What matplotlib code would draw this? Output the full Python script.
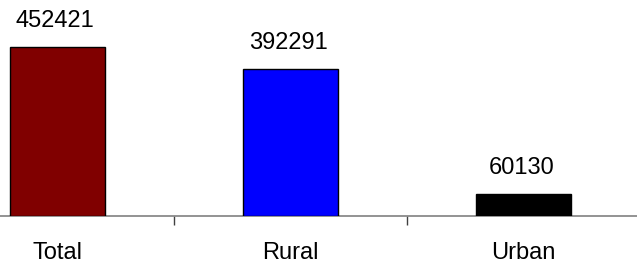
import numpy as np
import matplotlib
matplotlib.use('Agg')
import matplotlib.pyplot as plt

plt.rcParams['font.family'] = ['Liberation Sans', 'DejaVu Sans']

categories = ['Total', 'Rural', 'Urban']
values = [452421, 392291, 60130]
colors = ['#800000', '#0000FF', '#000000']

W, H = 637, 268
fig = plt.figure(figsize=(W / 100, H / 100), dpi=100)

# axes spills past the left/right edge of the figure, like the original crop
left_px, right_px, base_px = -59, 640, 216
ax = fig.add_axes([left_px / W, (H - base_px) / H, (right_px - left_px) / W, base_px / H])

x = np.arange(len(categories))
ax.bar(x, values, width=0.41, color=colors, edgecolor='black', linewidth=1.0, zorder=3)

for xi, v in zip(x, values):
  ax.annotate(str(v), (xi - 0.01, v), xytext=(0, 14.4), textcoords='offset points',
              ha='center', va='baseline', fontsize=17)

ax.set_xlim(-0.5, 2.5)
ax.set_ylim(0, 452421 * 216 / 169)

ax.set_xticks(x)
ax.set_xticklabels(categories, fontsize=17)
ax.tick_params(axis='x', which='major', length=0, pad=19)
ax.set_xticks([0.5, 1.5], minor=True)
ax.tick_params(axis='x', which='minor', length=6.5, width=1, color='#404040', direction='out')
ax.set_yticks([])

for s in ['top', 'right', 'left']:
  ax.spines[s].set_visible(False)
ax.spines['bottom'].set_color('#808080')
ax.spines['bottom'].set_linewidth(1.2)

fig.savefig('out.png', dpi=100)
